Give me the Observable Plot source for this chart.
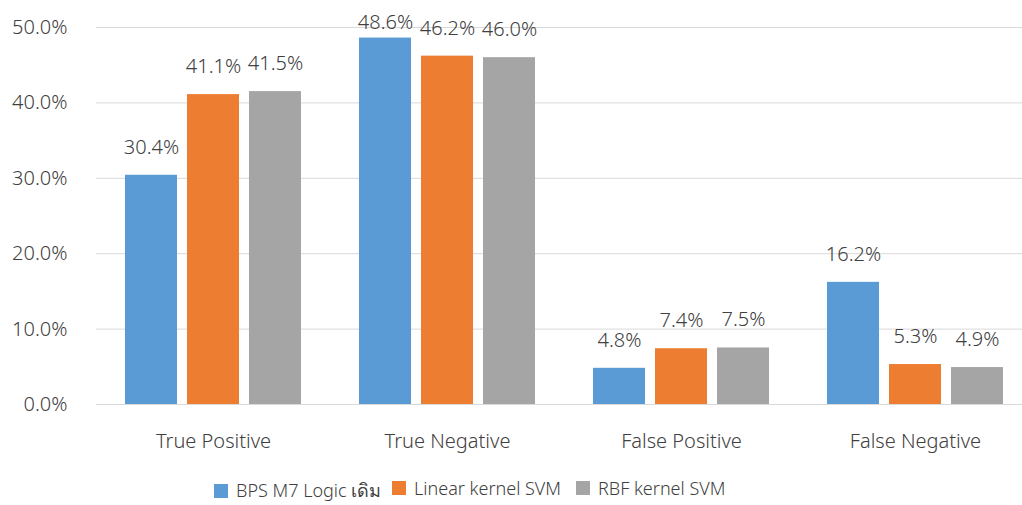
<!DOCTYPE html>
<html>
<head>
<meta charset="utf-8">
<script src="https://cdn.jsdelivr.net/npm/d3@7"></script>
<script src="https://cdn.jsdelivr.net/npm/@observablehq/plot@0.6"></script>
<style>
  body { margin: 0; background: #fff; font-family: "Noto Sans", "DejaVu Sans", sans-serif; }
  #legend { height: 35px; position: relative; color: #404040; font-size: 18px; font-weight: 300; }
  #legend .item { position: absolute; top: 6px; display: flex; align-items: center; white-space: nowrap; }
  #legend .sw { width: 14px; height: 14px; margin-right: 8px; display: inline-block; }
  svg text { font-size: 20px; font-weight: 300; }
</style>
</head>
<body>
<div id="chart"></div>
<div id="legend"></div>
<script>
const categories = ["True Positive", "True Negative", "False Positive", "False Negative"];
const series = ["BPS M7 Logic เดิม", "Linear kernel SVM", "RBF kernel SVM"];
const bpsValues = [30.4, 48.6, 4.8, 16.2];
const linearValues = [41.1, 46.2, 7.4, 5.3];
const rbfValues = [41.5, 46.0, 7.5, 4.9];
const yTicks = [0, 10, 20, 30, 40, 50];
const colors = ["#5B9BD5", "#ED7D31", "#A5A5A5"];

const seriesValues = [bpsValues, linearValues, rbfValues];
const data = [];
categories.forEach((c, i) => {
  series.forEach((s, j) => data.push({category: c, series: s, value: seriesValues[j][i]}));
});

const chart = Plot.plot({
  width: 1022,
  height: 470,
  marginLeft: 95,
  marginRight: -10,
  marginTop: 27,
  marginBottom: 66,
  style: {fontFamily: "'Noto Sans', 'DejaVu Sans', sans-serif", fontSize: "20px", color: "#404040", background: "#fff"},
  fx: {domain: categories, padding: 0, label: null, axis: "bottom", tickSize: 0, tickPadding: 29},
  x: {domain: series, axis: null, paddingInner: 0.159, paddingOuter: 0.439},
  y: {domain: [0, 50], ticks: yTicks, tickFormat: d => d.toFixed(1) + "%", tickSize: 0, tickPadding: 29, label: null},
  color: {domain: series, range: colors},
  marks: [
    Plot.gridY(yTicks, {stroke: "#d9d9d9", strokeOpacity: 1, strokeWidth: 1}),
    Plot.barY(data, {fx: "category", x: "series", y: "value", fill: "series"}),
    Plot.text(data, {fx: "category", x: "series", y: d => Math.min(d.value, 46.95), text: d => d.value.toFixed(1) + "%", dy: -28, fill: "#404040", fontSize: 20})
  ]
});
document.getElementById("chart").appendChild(chart);

const legend = document.getElementById("legend");
const lefts = [214, 392, 576];
series.forEach((s, j) => {
  const item = document.createElement("div");
  item.className = "item";
  item.style.left = lefts[j] + "px";
  item.innerHTML = `<span class="sw" style="background:${colors[j]}"></span><span>${s}</span>`;
  legend.appendChild(item);
});
</script>
</body>
</html>
